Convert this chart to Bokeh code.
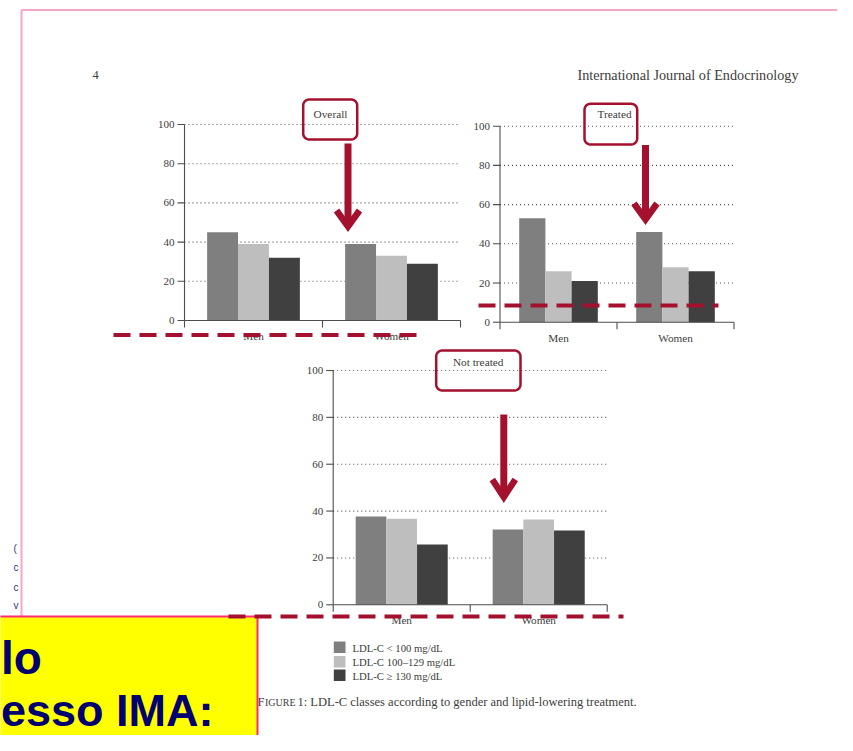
import numpy as np
from bokeh.plotting import figure
from bokeh.models import Range1d, ColumnDataSource
from bokeh.core.properties import value
from bokeh.embed import file_html
from bokeh.resources import INLINE

# ---------------- data ----------------
groups = ["Men", "Women"]
ldl_classes = ["LDL-C < 100 mg/dL", "LDL-C 100\u2013129 mg/dL", "LDL-C \u2265 130 mg/dL"]
class_colors = ["#7f7f7f", "#bebebe", "#404040"]
y_ticks = [0, 20, 40, 60, 80, 100]

overall_men = [45, 39, 32]
overall_women = [39, 33, 29]
treated_men = [53, 26, 21]
treated_women = [46, 28, 26]
not_treated_men = [37.7, 36.7, 25.7]
not_treated_women = [32.1, 36.4, 31.7]
panel_titles = ["Overall", "Treated", "Not treated"]

header_left = "4"
header_right = "International Journal of Endocrinology"
caption_first = "F"
caption_smallcaps = "IGURE"
caption_rest = "1: LDL-C classes according to gender and lipid-lowering treatment."
slide_lines = ["lo", "esso IMA:"]
edge_fragments = ["(", "c", "c", "v"]

# ---------------- page ----------------
W, H = 837, 735
SERIF = value("Liberation Serif")
SANS = value("Liberation Sans")
RED = "#a3112e"
TXT = "#3c3c3c"

p = figure(width=W, height=H, output_backend="svg", toolbar_location=None,
           x_range=Range1d(0, W), y_range=Range1d(H, 0),
           x_axis_location=None, y_axis_location=None, min_border=0)
p.grid.visible = False
p.grid.grid_line_color = None
p.outline_line_color = None
p.background_fill_color = "white"
p.border_fill_color = "white"

# slide frame (pink)
p.segment(x0=[21, 21], y0=[9.5, 9.5], x1=[870, 21], y1=[9.5, 616],
          line_color="#f6a6c6", line_width=2)
p.text(x=[13] * 4, y=[548, 567, 587, 605], text=edge_fragments, text_font=SANS,
       text_font_size=value("10px"), text_color="#1f3a7a", text_align="left",
       text_baseline="middle")

# journal header
p.text(x=[95], y=[74], text=[header_left], text_font=SERIF, text_font_size=value("12.5px"),
       text_color=TXT, text_align="center", text_baseline="middle")
p.text(x=[798], y=[74], text=[header_right], text_font=SERIF, text_font_size=value("14.2px"),
       text_color=TXT, text_align="right", text_baseline="middle")


def rounded_rect(x0, y0, x1, y1, r=6, n=10):
    xs, ys = [], []
    specs = [((x0 + r, y0 + r), np.pi, 1.5 * np.pi),
             ((x1 - r, y0 + r), 1.5 * np.pi, 2 * np.pi),
             ((x1 - r, y1 - r), 0.0, 0.5 * np.pi),
             ((x0 + r, y1 - r), 0.5 * np.pi, np.pi)]
    for (cx, cy), a0, a1 in specs:
        t = np.linspace(a0, a1, n)
        xs.extend(cx + r * np.cos(t))
        ys.extend(cy + r * np.sin(t))
    xs.append(xs[0]); ys.append(ys[0])
    return xs, ys


annotations = []


def panel(k, title, men, women, xa, xb, y0, y100, box, arrow, dash):
    w = (xb - xa) / 2.0
    s = (y0 - y100) / 100.0
    xr, yr = f"x{k}", f"y{k}"
    p.extra_x_ranges[xr] = Range1d((0 - xa) / w, (W - xa) / w)
    p.extra_y_ranges[yr] = Range1d((y0 - H) / s, (y0 - 0) / s)

    gv = y_ticks[1:]
    p.segment(x0=[0] * len(gv), x1=[2] * len(gv), y0=gv, y1=gv,
              x_range_name=xr, y_range_name=yr,
              line_color="#555555", line_width=1.1, line_dash="1 3")

    bw = 0.224
    xs, tops, cols = [], [], []
    for gi, vals in enumerate([men, women]):
        for ci, v in enumerate(vals):
            xs.append(gi + 0.5 + (ci - 1) * bw)
            tops.append(v)
            cols.append(class_colors[ci])
    src = ColumnDataSource(dict(x=xs, top=tops, color=cols))
    p.vbar(x="x", top="top", bottom=0, width=bw, fill_color="color", line_color=None,
           source=src, x_range_name=xr, y_range_name=yr)

    ac = "#4d4d4d"
    # y axis
    p.segment(x0=[xa], x1=[xa], y0=[0], y1=[100], y_range_name=yr, line_color=ac, line_width=1.1)
    p.segment(x0=[xa - 7] * len(y_ticks), x1=[xa] * len(y_ticks), y0=y_ticks, y1=y_ticks,
              y_range_name=yr, line_color=ac, line_width=1.1)
    p.text(x=[xa - 10] * len(y_ticks), y=y_ticks, text=[str(t) for t in y_ticks],
           y_range_name=yr, text_font=SERIF, text_font_size=value("11px"),
           text_color=TXT, text_align="right", text_baseline="middle")
    # x axis
    p.segment(x0=[0], x1=[2], y0=[0], y1=[0], x_range_name=xr, y_range_name=yr,
              line_color=ac, line_width=1.1)
    p.segment(x0=[0, 1, 2], x1=[0, 1, 2], y0=[y0] * 3, y1=[y0 + 7] * 3,
              x_range_name=xr, line_color=ac, line_width=1.1)
    p.text(x=[0.5, 1.5], y=[y0 + 15.5] * 2, text=groups, x_range_name=xr,
           text_font=SERIF, text_font_size=value("11.2px"), text_color=TXT,
           text_align="center", text_baseline="middle")
    annotations.append((title, box, arrow, dash))


panel(1, panel_titles[0], overall_men, overall_women, 184, 460, 320, 124,
      box=(302.7, 99, 356.7, 139, 330, 113),
      arrow=(347.5, 143, 226, 210, 11.5), dash=(113, 425, 334.5))
panel(2, panel_titles[1], treated_men, treated_women, 499.5, 733.5, 321.7, 125.7,
      box=(584, 103.3, 636.7, 144, 614, 113.5),
      arrow=(645, 144.5, 219, 203, 11.5), dash=(478, 718, 305))
panel(3, panel_titles[2], not_treated_men, not_treated_women, 332.7, 606.7, 604.3, 370,
      box=(435.7, 350, 520, 390, 477.7, 361),
      arrow=(503.3, 414, 496.5, 479, 11.5), dash=(228, 623, 616))

# legend
leg_top = [641, 655.5, 669]
p.quad(left=[333.3] * 3, right=[345] * 3, top=leg_top, bottom=[t + 11.5 for t in leg_top],
       fill_color=class_colors, line_color=None)
p.text(x=[352] * 3, y=[t + 6 for t in leg_top], text=ldl_classes, text_font=SERIF,
       text_font_size=value("10.7px"), text_color=TXT, text_align="left", text_baseline="middle")

# caption (small caps imitation)
p.text(x=[257], y=[701], text=[caption_first], text_font=SERIF, text_font_size=value("12.5px"),
       text_color=TXT, text_align="left", text_baseline="middle")
p.text(x=[264.5], y=[702], text=[caption_smallcaps], text_font=SERIF, text_font_size=value("10px"),
       text_color=TXT, text_align="left", text_baseline="middle")
p.text(x=[297], y=[701], text=[caption_rest], text_font=SERIF, text_font_size=value("12.5px"),
       text_color=TXT, text_align="left", text_baseline="middle")

# yellow slide box
p.quad(left=[-10], right=[257], top=[616], bottom=[780], fill_color="#ffff00",
       line_color="#ff2a78", line_width=2)
p.text(x=[0.5], y=[657], text=[slide_lines[0]], text_font=SANS, text_font_style="bold",
       text_font_size=value("46px"), text_color="#000070", text_align="left",
       text_baseline="middle")
p.text(x=[0.5], y=[709.5], text=[slide_lines[1]], text_font=SANS, text_font_style="bold",
       text_font_size=value("45px"), text_color="#000070", text_align="left",
       text_baseline="middle")

# red annotations on top
for title, box, arrow, dash in annotations:
    x0, y0, x1, y1, tx, ty = box
    bx, by = rounded_rect(x0, y0, x1, y1, r=6)
    p.line(bx, by, line_color=RED, line_width=2.5)
    p.text(x=[tx], y=[ty], text=[title], text_font=SERIF, text_font_size=value("11.3px"),
           text_color=TXT, text_align="center", text_baseline="middle")
    ax, ytop, yv, yarm, half = arrow
    p.segment(x0=[ax], x1=[ax], y0=[ytop], y1=[yv], line_color=RED, line_width=7)
    p.line([ax - half, ax, ax + half], [yarm, yv, yarm], line_color=RED, line_width=6.5,
           line_join="miter")
    dx0, dx1, dy = dash
    p.segment(x0=[dx0], x1=[dx1], y0=[dy], y1=[dy], line_color=RED, line_width=4,
              line_dash="17 9")

open("out.html", "w").write(file_html(p, INLINE))
